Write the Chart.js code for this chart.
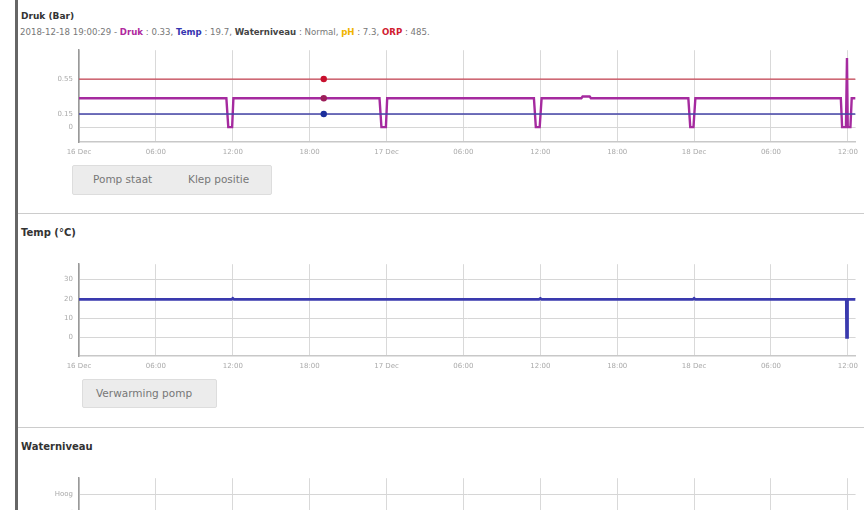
<!DOCTYPE html>
<html>
<head>
<meta charset="utf-8">
<title>Druk / Temp / Waterniveau</title>
<script src="https://cdn.jsdelivr.net/npm/chart.js@4/dist/chart.umd.min.js"></script>
<style>
  html, body { margin: 0; padding: 0; background: #fff; }
  body { width: 864px; height: 510px; overflow: hidden; position: relative; font-family: "DejaVu Sans", Verdana, sans-serif; }
  .leftbar { position: absolute; left: 15px; top: 0; width: 3px; height: 510px; background: #666; }
  .title { position: absolute; left: 21px; font-weight: bold; color: #333; }
  .status { position: absolute; left: 20px; top: 27px; font-size: 8.6px; color: #777; white-space: nowrap; }
  .status b { color: #444; }
  .sep { position: absolute; left: 18px; width: 846px; height: 1px; background: #ccc; }
  .btns { position: absolute; background: #ececec; border: 1px solid #ddd; border-radius: 2px; color: #777; font-size: 10.5px; }
  .btns span { position: absolute; top: 7px; white-space: nowrap; }
  canvas { position: absolute; }
</style>
</head>
<body>
<div class="leftbar"></div>

<div class="title" style="top:11px;font-size:9px">Druk (Bar)</div>
<div class="status">2018-12-18 19:00:29 - <b style="color:#b0289e">Druk</b> : 0.33, <b style="color:#3535b0">Temp</b> : 19.7, <b>Waterniveau</b> : Normal, <b style="color:#f0b400">pH</b> : 7.3, <b style="color:#d02030">ORP</b> : 485.</div>
<canvas id="drukChart" width="844" height="124" style="left:20px;top:40px"></canvas>
<div class="btns" style="left:72px;top:165px;width:198px;height:28px">
  <span style="left:20px">Pomp staat</span><span style="left:115px">Klep positie</span>
</div>
<div class="sep" style="top:213px"></div>

<div class="title" style="top:227px;font-size:10px">Temp (°C)</div>
<canvas id="tempChart" width="844" height="124" style="left:20px;top:254px"></canvas>
<div class="btns" style="left:82px;top:379px;width:133px;height:27px">
  <span style="left:13px">Verwarming pomp</span>
</div>
<div class="sep" style="top:427px"></div>

<div class="title" style="top:441px;font-size:10px">Waterniveau</div>
<canvas id="waterChart" width="844" height="130" style="left:20px;top:468px"></canvas>

<script>
// time axis, in hours from the first tick
var xTickHours = [0, 6, 12, 18, 24, 30, 36, 42, 48, 54, 60];
var xTickLabels = ['16 Dec', '06:00', '12:00', '18:00', '17 Dec', '06:00', '12:00', '18:00', '18 Dec', '06:00', '12:00'];
var hoverHour = 19.1;

// Druk chart
var drukTickValues = [0, 0.15, 0.55];
var drukTickLabels = ['0', '0.15', '0.55'];
var drukHours = [0, 11.5, 11.65, 11.95, 12.05, 19.1, 23.45, 23.6, 23.95, 24.05, 35.5, 35.65, 35.95, 36.1,
  39.2, 39.3, 39.85, 39.95, 47.55, 47.7, 47.95, 48.1, 59.45, 59.55, 59.85, 59.93, 59.99, 60.2, 60.3, 60.6];
var drukValues = [0.33, 0.33, 0, 0, 0.33, 0.33, 0.33, 0, 0, 0.33, 0.33, 0, 0, 0.33,
  0.33, 0.35, 0.35, 0.33, 0.33, 0, 0, 0.33, 0.33, 0, 0, 0.79, 0, 0, 0.33, 0.33];
var klepHours = [0, 19.1, 60.6];
var klepValues = [0.15, 0.15, 0.15];
var orpHours = [0, 19.1, 60.6];
var orpValues = [0.55, 0.55, 0.55];

// Temp chart
var tempTickValues = [0, 10, 20, 30];
var tempHours = [0, 11.9, 12.0, 12.1, 35.9, 36.0, 36.1, 47.9, 48.0, 48.1, 59.88, 59.9, 59.95, 59.97, 60.6];
var tempValues = [19.7, 19.7, 20.3, 19.7, 19.7, 20.2, 19.7, 19.7, 20.3, 19.7, 19.7, 0, 0, 19.7, 19.7];

// Waterniveau chart
var waterTickValues = [0, 1, 2];
var waterTickLabels = ['Laag', 'Normaal', 'Hoog'];
var waterHours = [0, 60.6];
var waterValues = [1, 1];

function pairs(hours, values) {
  return hours.map(function (h, i) { return { x: h, y: values[i] }; });
}

function hoverRadius(ctx) {
  return ctx.raw && ctx.raw.x === hoverHour ? 3.2 : 0;
}

function xScale() {
  return {
    type: 'linear',
    min: 0,
    max: 60.6,
    afterBuildTicks: function (s) { s.ticks = xTickHours.map(function (v) { return { value: v }; }); },
    afterFit: function (s) { s.height = 22; },
    ticks: {
      autoSkip: false, maxRotation: 0, padding: 6,
      color: '#aaa', font: { size: 7, family: 'DejaVu Sans' },
      callback: function (v) { return xTickLabels[xTickHours.indexOf(v)]; }
    },
    grid: { color: '#d9d9d9', lineWidth: 1, drawTicks: false },
    border: { color: '#c8c8c8', width: 1.5 }
  };
}

function yScale(min, max, values, labels) {
  return {
    type: 'linear',
    min: min,
    max: max,
    afterBuildTicks: function (s) { s.ticks = values.map(function (v) { return { value: v }; }); },
    afterFit: function (s) { s.width = 59; },
    ticks: {
      padding: 6, color: '#aaa', font: { size: 7, family: 'DejaVu Sans' },
      callback: function (v) { return labels[values.indexOf(v)]; }
    },
    grid: { color: '#d6d6d6', lineWidth: 1, drawTicks: false },
    border: { color: '#999', width: 1.5 }
  };
}

function baseOptions(scales) {
  return {
    responsive: false,
    animation: false,
    layout: { padding: { top: 8, right: 4, left: 0, bottom: 0 } },
    plugins: { legend: { display: false }, tooltip: { enabled: false } },
    scales: scales
  };
}

new Chart(document.getElementById('drukChart'), {
  type: 'line',
  data: {
    datasets: [
      { label: 'ORP', data: pairs(orpHours, orpValues), borderColor: '#c84454', borderWidth: 1.3,
        pointRadius: hoverRadius, pointBackgroundColor: '#c8102e', pointBorderWidth: 0, tension: 0 },
      { label: 'Klep positie', data: pairs(klepHours, klepValues), borderColor: '#4444a8', borderWidth: 1.3,
        pointRadius: hoverRadius, pointBackgroundColor: '#1c2f9c', pointBorderWidth: 0, tension: 0 },
      { label: 'Druk', data: pairs(drukHours, drukValues), borderColor: '#a52a9f', borderWidth: 2.4,
        pointRadius: hoverRadius, pointBackgroundColor: '#9c1f5a', pointBorderWidth: 0, tension: 0 }
    ]
  },
  options: baseOptions({
    x: xScale(),
    y: yScale(-0.17, 0.88, drukTickValues, drukTickLabels)
  })
});

new Chart(document.getElementById('tempChart'), {
  type: 'line',
  data: {
    datasets: [
      { label: 'Temp', data: pairs(tempHours, tempValues), borderColor: '#3a3aae', borderWidth: 2.8,
        pointRadius: 0, tension: 0 }
    ]
  },
  options: baseOptions({
    x: xScale(),
    y: yScale(-9.7, 38, tempTickValues, tempTickValues.map(String))
  })
});

new Chart(document.getElementById('waterChart'), {
  type: 'line',
  data: {
    datasets: [
      { label: 'Waterniveau', data: pairs(waterHours, waterValues), borderColor: '#3a3aae', borderWidth: 2,
        pointRadius: 0, tension: 0 }
    ]
  },
  options: baseOptions({
    x: xScale(),
    y: yScale(-2.3, 2.83, waterTickValues, waterTickLabels)
  })
});
</script>
</body>
</html>
